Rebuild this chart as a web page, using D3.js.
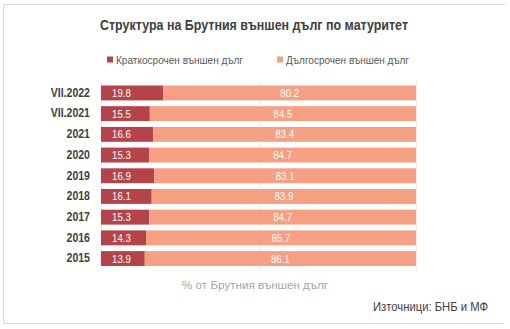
<!DOCTYPE html>
<html>
<head>
<meta charset="utf-8">
<script src="https://cdn.jsdelivr.net/npm/d3@7"></script>
<style>
  html, body { margin: 0; padding: 0; background: #fff; }
  svg { display: block; font-family: "Liberation Sans Narrow", "Arial Narrow", "Liberation Sans", sans-serif; }
</style>
</head>
<body>
<div id="chart"></div>
<script>
// Data
const categories = ['VII.2022', 'VII.2021', '2021', '2020', '2019', '2018', '2017', '2016', '2015'];
const shortTerm = [19.8, 15.5, 16.6, 15.3, 16.9, 16.1, 15.3, 14.3, 13.9];
const longTerm = [80.2, 84.5, 83.4, 84.7, 83.1, 83.9, 84.7, 85.7, 86.1];
const seriesNames = ['Краткосрочен външен дълг', 'Дългосрочен външен дълг'];
const gridTicks = [0, 50, 100];

const W = 510, H = 329;
const colors = ['#b4444a', '#f5a083'];

const rows = categories.map((c, i) => ({ cat: c, s: shortTerm[i], l: longTerm[i] }));
const stacked = d3.stack().keys(['s', 'l'])(rows);

const svg = d3.select('#chart').append('svg')
    .attr('width', W)
    .attr('height', H);

// Frame (top, left, bottom)
svg.append('path')
    .attr('d', 'M505,4.5H3.5V323.5H503')
    .attr('fill', 'none')
    .attr('stroke', '#d9d9d9')
    .attr('stroke-width', 1);

// Scales
const x = d3.scaleLinear().domain([0, 100]).range([101, 416]);
const y = d3.scaleBand().domain(categories).range([82.6, 268.9]).paddingInner(0.28).paddingOuter(0.14);

// Gridlines
svg.append('g')
    .selectAll('line')
    .data(gridTicks)
    .join('line')
    .attr('x1', d => Math.round(x(d)) + 0.5)
    .attr('x2', d => Math.round(x(d)) + 0.5)
    .attr('y1', 82)
    .attr('y2', 270)
    .attr('stroke', '#ececec');

// Bars
const layers = svg.append('g')
    .selectAll('g')
    .data(stacked)
    .join('g')
    .attr('fill', (d, i) => colors[i]);

layers.selectAll('rect')
    .data(d => d)
    .join('rect')
    .attr('x', d => x(d[0]))
    .attr('width', d => x(d[1]) - x(d[0]))
    .attr('y', d => y(d.data.cat))
    .attr('height', y.bandwidth());

// Value labels (condensed a little to mimic a narrow face)
const condense = 0.88;
svg.append('g')
    .selectAll('text')
    .data(stacked[0])
    .join('text')
    .attr('transform', d => `translate(${x(d[0]) + 11},${y(d.data.cat) + y.bandwidth() / 2}) scale(${condense},1)`)
    .attr('dy', '0.36em')
    .attr('fill', '#fff')
    .style('font-size', '11px')
    .text(d => d.data.s.toFixed(1));

svg.append('g')
    .selectAll('text')
    .data(stacked[1])
    .join('text')
    .attr('transform', d => `translate(${(x(d[0]) + x(d[1])) / 2},${y(d.data.cat) + y.bandwidth() / 2}) scale(${condense},1)`)
    .attr('dy', '0.36em')
    .attr('text-anchor', 'middle')
    .attr('fill', '#fff')
    .style('font-size', '11px')
    .text(d => d.data.l.toFixed(1));

// Category axis
const yAxis = svg.append('g')
    .attr('transform', 'translate(90,0)')
    .call(d3.axisLeft(y).tickSize(0).tickPadding(0));
yAxis.select('.domain').remove();
yAxis.selectAll('text')
    .attr('fill', '#404040')
    .attr('transform', `scale(${condense},1)`)
    .style('font-family', 'inherit')
    .style('font-size', '12px')
    .style('font-weight', 'bold');

// Title
svg.append('text')
    .attr('x', 100)
    .attr('y', 30)
    .attr('textLength', 308)
    .attr('lengthAdjust', 'spacingAndGlyphs')
    .attr('fill', '#404040')
    .style('font-size', '14px')
    .style('font-weight', 'bold')
    .text('Структура на Брутния външен дълг по матуритет');

// Legend
const legendX = [107, 277];
const legendW = [127, 123];
const legend = svg.append('g')
    .selectAll('g')
    .data(seriesNames)
    .join('g')
    .attr('transform', (d, i) => `translate(${legendX[i]},59.5)`);
legend.append('rect')
    .attr('y', -3)
    .attr('width', 6)
    .attr('height', 6)
    .attr('fill', (d, i) => colors[i]);
legend.append('text')
    .attr('x', 9)
    .attr('dy', '0.36em')
    .attr('textLength', (d, i) => legendW[i])
    .attr('lengthAdjust', 'spacingAndGlyphs')
    .attr('fill', '#595959')
    .style('font-size', '11.5px')
    .text(d => d);

// Axis title
svg.append('text')
    .attr('x', 182)
    .attr('y', 289)
    .attr('textLength', 146)
    .attr('lengthAdjust', 'spacingAndGlyphs')
    .attr('fill', '#a6a6a6')
    .style('font-size', '11.5px')
    .text('% от Брутния външен дълг');

// Source
svg.append('text')
    .attr('x', 373)
    .attr('y', 311)
    .attr('textLength', 115)
    .attr('lengthAdjust', 'spacingAndGlyphs')
    .attr('fill', '#404040')
    .style('font-size', '12px')
    .text('Източници: БНБ и МФ');
</script>
</body>
</html>
